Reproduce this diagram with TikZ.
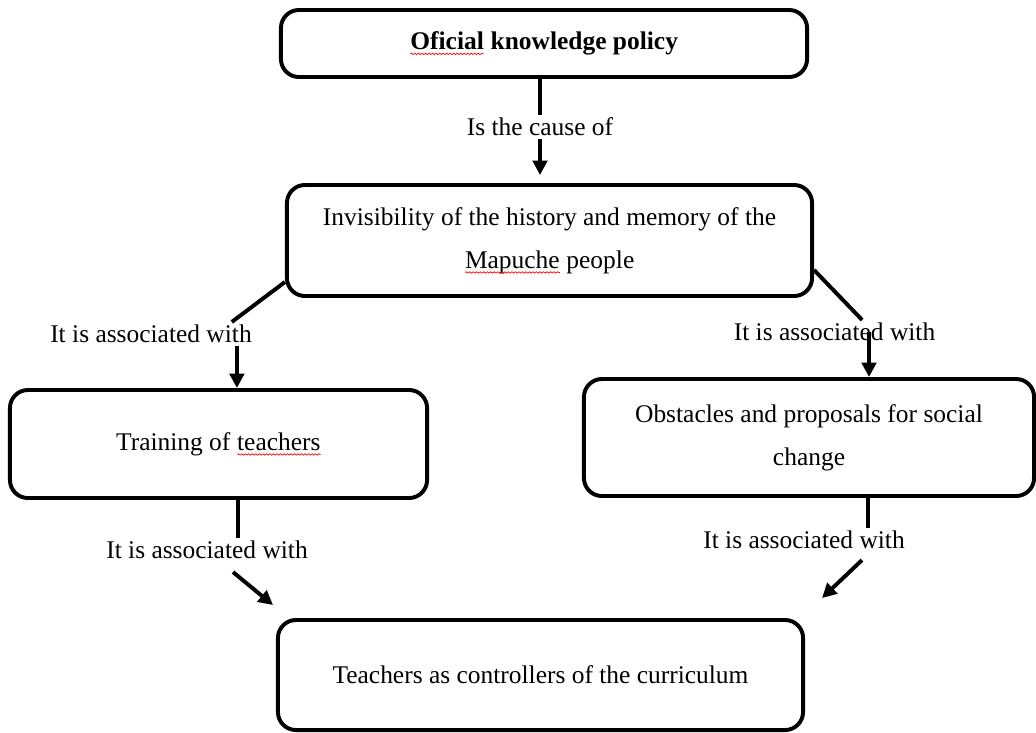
\documentclass[tikz,border=0pt]{standalone}
\usepackage{fontspec}
\setmainfont{Liberation Serif}
\usetikzlibrary{arrows.meta,decorations.pathmorphing}

\newcommand{\spellerr}[1]{\tikz[baseline=(w.base)]{%
    \node[draw=none, fill=none, inner sep=0pt, outer sep=0pt, minimum width=0pt, minimum height=0pt] (w) {#1};
    \draw[red, line width=0.5pt, sharp corners, decorate, decoration={snake, amplitude=0.5pt, segment length=2.5pt}]
        ([yshift=-3pt]w.base west) -- ([yshift=-3pt]w.base east);}}

\begin{document}
\begin{tikzpicture}[
            x=0.025cm, y=-0.025cm,
            box/.style={draw, line width=2.8pt, rounded corners=0.45cm, align=center,
                font=\fontsize{18.1}{30.5}\selectfont},
            linklabel/.style={inner sep=2pt, font=\fontsize{18.1}{20}\selectfont},
            link/.style={line width=2.8pt},
            arrow/.style={link, -{Triangle[length=0.36cm, width=0.36cm]}}
            ]
        \useasboundingbox (0,0) rectangle (1036,732);

        % boxes
        \node[box, minimum width=13.15cm, minimum height=1.675cm] (policy) at (544,43.5)
            {\spellerr{\textbf{Oficial}} \textbf{knowledge policy}};
        \node[box, minimum width=13.125cm, minimum height=2.775cm] (mid) at (549.5,240.5)
            {Invisibility of the history and memory of the\\\spellerr{Mapuche} people};
        \node[box, minimum width=10.425cm, minimum height=2.7cm] (training) at (218.5,444)
            {Training of \spellerr{teachers}};
        \node[box, minimum width=11.25cm, minimum height=2.925cm] (obstacles) at (809,437.5)
            {Obstacles and proposals for social\\change};
        \node[box, minimum width=13.125cm, minimum height=2.75cm] (controllers) at (540.5,675)
            {Teachers as controllers of the curriculum};

        % connector labels
        \node[linklabel] (cause) at (540,127) {Is the cause of};
        \node[linklabel] (assocL) at (151,334) {It is associated with};
        \node[linklabel] (assocR) at (834.5,332) {It is associated with};
        \node[linklabel] (assocBL) at (207,550) {It is associated with};
        \node[linklabel] (assocBR) at (804,540) {It is associated with};

        % ends of the arrows
        \coordinate (toTraining) at ([xshift=0.46cm]training.north);
        \coordinate (toObstacles) at ([xshift=1.5cm]obstacles.north);
        \coordinate (outBL) at ([shift={(26,10)}]assocBL.south);
        \coordinate (inBL) at ([shift={(-3,-13)}]controllers.north west);
        \coordinate (outBR) at ([shift={(58,8)}]assocBR.south);
        \coordinate (inBR) at ([shift={(17,-20)}]controllers.north east);

        % connectors
        \draw[link] (policy.south -| cause) -- (cause.north);
        \draw[arrow] (cause.south) -- ([yshift=0.2cm]mid.north -| cause);

        \draw[link] ([yshift=0.4cm]mid.south west) -- ([xshift=2.02cm]assocL.north);
        \draw[arrow] (assocL.south -| toTraining) -- (toTraining);

        \draw[link] ([yshift=0.7cm]mid.south east) -- ([xshift=0.69cm]assocR.north);
        \draw[arrow] (assocR.center -| toObstacles) -- (toObstacles);

        \draw[link] ([xshift=0.49cm]training.south) -- ([xshift=0.49cm]training.south |- assocBL.north);
        \draw[arrow] (outBL) -- (inBL);

        \draw[link] ([xshift=1.475cm]obstacles.south) -- ([xshift=1.475cm]obstacles.south |- assocBR.north);
        \draw[arrow] (outBR) -- (inBR);
        \end{tikzpicture}
\end{document}
